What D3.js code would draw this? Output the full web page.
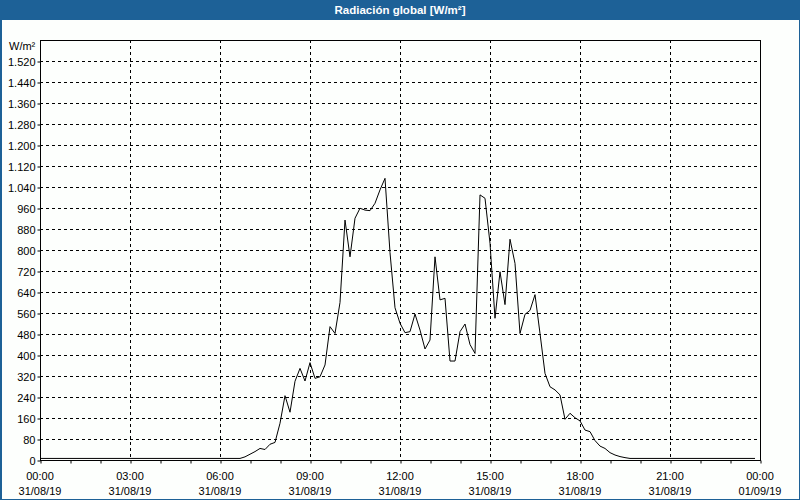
<!DOCTYPE html>
<html><head><meta charset="utf-8">
<script src="https://cdn.jsdelivr.net/npm/d3@7"></script>
<style>
html,body{margin:0;padding:0;background:#fff;}
svg{display:block;font-family:"Liberation Sans",Arial,sans-serif;}
</style></head>
<body>
<svg id="c" width="800" height="500"></svg>
<script>
const title = "Radiación global [W/m²]";
const unitLabel = "W/m²";
const yTicks = [0,80,160,240,320,400,480,560,640,720,800,880,960,1040,1120,1200,1280,1360,1440,1520];
const xTickHours = [0,3,6,9,12,15,18,21,24];
const xTickTimes = ["00:00","03:00","06:00","09:00","12:00","15:00","18:00","21:00","00:00"];
const xTickDates = ["31/08/19","31/08/19","31/08/19","31/08/19","31/08/19","31/08/19","31/08/19","31/08/19","01/09/19"];
// 10-minute values from 00:00 to 23:50
const nightA = [6,6,6,6,6,6,6,6,6,6,6,6,6,6,6,6,6,6,6,6,6,6,6,6,6,6,6,6,6,6,6,6,6,6,6,6,6,6,6,6,6];
const day = [12,22,32,44,40,60,67,140,245,182,300,349,301,371,311,317,362,508,482,600,
  914,774,921,959,952,950,978,1029,1073,790,580,521,485,489,556,495,423,457,774,610,
  616,377,377,489,518,440,406,1010,997,826,540,717,592,841,749,482,555,570,630,482,
  330,279,267,248,155,178,161,149,114,108,74,53,44,28,19,13,9];
const nightB = [6,6,6,6,6,6,6,6,6,6,6,6,6,6,6,6,6,6,6,6,6,6,6,6,6,6];
const values = nightA.concat(day, nightB);

const svg = d3.select("#c");
const W = 800, H = 500;
const L = 40, R = 760, T = 40, B = 460;
const blue = "#1d6197";

svg.append("rect").attr("x",0).attr("y",0).attr("width",W).attr("height",H).attr("fill",blue);
svg.append("rect").attr("x",2).attr("y",20).attr("width",W-3).attr("height",H-21).attr("fill","#fdfffd");
svg.append("text").attr("x",400).attr("y",14).attr("text-anchor","middle")
  .attr("fill","#fff").attr("font-weight","bold").attr("font-size","11.5px").text(title);

const x = d3.scaleLinear().domain([0,24]).range([L,R]);
const y = d3.scaleLinear().domain([0,1600]).range([B,T]);

// grid
const g = svg.append("g");
g.selectAll("line.hg").data(yTicks.filter(d=>d>0)).join("line")
  .attr("x1",L).attr("x2",R).attr("y1",d=>Math.round(y(d))+0.5).attr("y2",d=>Math.round(y(d))+0.5)
  .attr("stroke","#000").attr("stroke-dasharray","3,3");
g.selectAll("line.vg").data(xTickHours.filter(d=>d>0&&d<24)).join("line")
  .attr("y1",T).attr("y2",B).attr("x1",d=>Math.round(x(d))+0.5).attr("x2",d=>Math.round(x(d))+0.5)
  .attr("stroke","#000").attr("stroke-dasharray","3,3");

// axes
const yAxis = d3.axisLeft(y).tickValues(yTicks).tickSize(3).tickPadding(2)
  .tickFormat(d=>d3.format(",")(d).replace(/,/g,"."));
const ya = svg.append("g").attr("transform",`translate(${L+0.5},0.5)`).call(yAxis);
ya.select(".domain").remove();
ya.selectAll("text").attr("font-size","11px").attr("fill","#000").attr("font-family","Liberation Sans, Arial, sans-serif");

const hours = d3.range(0,25);
const xAxis = d3.axisBottom(x).tickValues(hours).tickSize(3).tickFormat("");
const xa = svg.append("g").attr("transform",`translate(0.5,${B+0.5})`).call(xAxis);
xa.select(".domain").remove();

const lbl = svg.append("g");
lbl.selectAll("text.t").data(xTickHours).join("text")
  .attr("x",d=>x(d)).attr("y",480).attr("text-anchor","middle").attr("font-size","11px")
  .text((d,i)=>xTickTimes[i]);
lbl.selectAll("text.d").data(xTickHours).join("text")
  .attr("x",d=>x(d)).attr("y",495).attr("text-anchor","middle").attr("font-size","11px")
  .text((d,i)=>xTickDates[i]);

svg.append("text").attr("x",9).attr("y",50).attr("font-size","11px").text(unitLabel);

// frame
svg.append("rect").attr("x",L+0.5).attr("y",T+0.5).attr("width",R-L).attr("height",B-T)
  .attr("fill","none").attr("stroke","#000");

// line
const line = d3.line().x((d,i)=>x(i/6)).y(d=>y(d));
svg.append("path").datum(values).attr("d",line).attr("fill","none")
  .attr("stroke","#000").attr("stroke-width",1);
</script>
</body></html>
